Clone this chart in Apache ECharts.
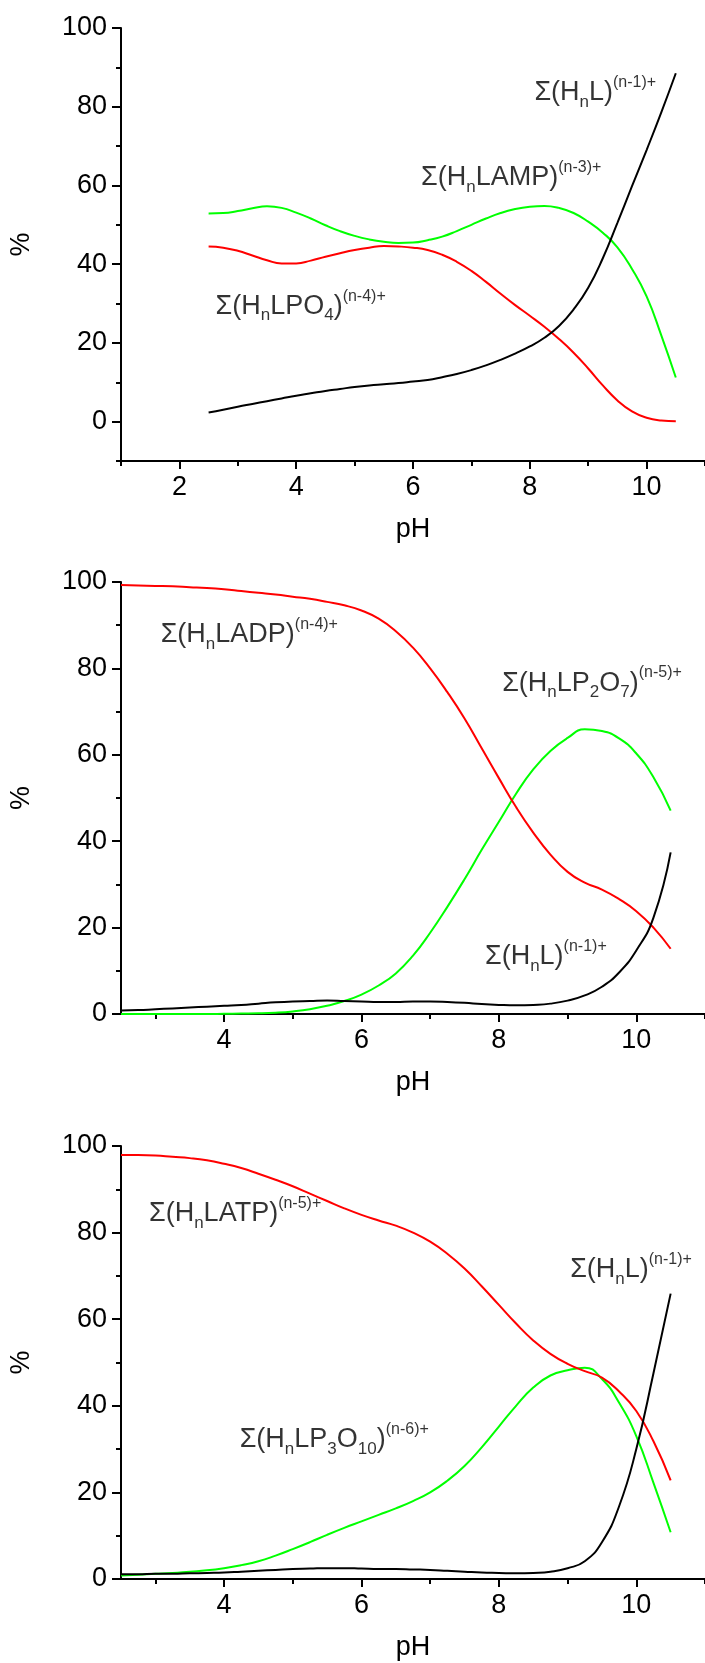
<!DOCTYPE html>
<html>
<head>
<meta charset="utf-8">
<script src="https://cdn.jsdelivr.net/npm/echarts@6/dist/echarts.min.js"></script>
<style>
  html, body { margin: 0; padding: 0; background: #fff; }
  #chart { width: 705px; height: 1663px; }
</style>
</head>
<body>
<div id="chart"></div>
<script>
// shared pH sampling
var pH = [2.5, 2.75, 3, 3.25, 3.5, 3.75, 4, 4.25, 4.5, 4.75, 5, 5.25, 5.5, 5.75, 6, 6.25, 6.5,
          6.75, 7, 7.25, 7.5, 7.75, 8, 8.25, 8.5, 8.75, 9, 9.25, 9.5, 9.75, 10, 10.25, 10.5];

// panel 1 : AMP
var ampHnL  = [2.3, 3.0, 3.8, 4.5, 5.2, 5.9, 6.6, 7.2, 7.8, 8.3, 8.8, 9.2, 9.5, 9.8, 10.2, 10.6, 11.3,
               12.1, 13.1, 14.3, 15.7, 17.3, 19.1, 21.3, 24.3, 28.5, 34.0, 41.5, 50.5, 59.8, 69.0, 78.5, 88.5];
var ampLAMP = [52.9, 53.0, 53.5, 54.2, 54.7, 54.3, 53.1, 51.6, 49.9, 48.4, 47.2, 46.3, 45.7, 45.4, 45.5, 46.1, 47.0,
               48.4, 50.0, 51.6, 53.0, 54.0, 54.6, 54.8, 54.3, 53.0, 50.8, 48.0, 44.3, 38.8, 31.8, 22.0, 11.2];
var ampLPO4 = [44.5, 44.2, 43.4, 42.2, 41.0, 40.2, 40.2, 40.9, 41.9, 42.8, 43.6, 44.2, 44.6, 44.5, 44.2, 43.6, 42.4,
               40.6, 38.3, 35.5, 32.5, 29.6, 26.9, 24.1, 21.0, 17.5, 13.5, 9.2, 5.4, 2.6, 1.0, 0.3, 0.1];

// panel 2 : ADP
var adpLADP  = [99.3, 99.2, 99.1, 99.0, 98.8, 98.6, 98.3, 97.9, 97.5, 97.1, 96.6, 96.1, 95.4, 94.6, 93.4, 91.5, 88.6,
                84.8, 80.0, 74.5, 68.4, 61.5, 54.6, 47.9, 42.0, 36.9, 32.9, 30.4, 28.8, 26.6, 23.8, 20.0, 15.1];
var adpLP2O7 = [0, 0, 0, 0, 0, 0, 0.05, 0.1, 0.15, 0.3, 0.6, 1.1, 1.9, 3.0, 4.5, 6.6, 9.4,
                13.5, 18.8, 24.8, 31.2, 38.0, 44.5, 51.0, 56.6, 60.9, 63.9, 65.9, 65.5, 63.8, 60.3, 54.8, 47.1];
var adpHnL   = [0.8, 0.9, 1.1, 1.3, 1.5, 1.7, 1.9, 2.1, 2.4, 2.7, 2.9, 3.0, 3.1, 3.0, 2.9, 2.8, 2.8,
                2.9, 2.9, 2.8, 2.6, 2.3, 2.1, 2.0, 2.1, 2.4, 3.1, 4.3, 6.3, 9.6, 14.7, 22.3, 37.4];

// panel 3 : ATP
var atpLATP   = [97.9, 97.9, 97.8, 97.5, 97.2, 96.7, 95.9, 94.9, 93.6, 92.2, 90.7, 89.0, 87.3, 85.6, 84.1, 82.8, 81.6,
                 80.0, 77.9, 75.1, 71.7, 67.6, 63.3, 59.0, 55.1, 52.0, 49.7, 48.0, 46.5, 43.3, 38.8, 31.8, 22.8];
var atpLP3O10 = [0.8, 1.0, 1.2, 1.4, 1.7, 2.0, 2.5, 3.2, 4.1, 5.4, 6.9, 8.5, 10.2, 11.8, 13.3, 14.8, 16.3,
                 18.0, 20.0, 22.7, 26.1, 30.4, 35.2, 40.0, 44.2, 47.0, 48.2, 48.8, 46.2, 40.7, 33.0, 22.2, 10.8];
var atpHnL    = [1.1, 1.1, 1.2, 1.2, 1.3, 1.4, 1.5, 1.7, 1.9, 2.1, 2.3, 2.4, 2.5, 2.5, 2.4, 2.3, 2.3,
                 2.2, 2.1, 1.9, 1.7, 1.5, 1.4, 1.3, 1.4, 1.7, 2.5, 4.1, 8.5, 16.8, 30.0, 47.5, 65.9];

// axis ranges and tick labels
var xRange1 = [1, 11];
var xRange23 = [2.5, 11];
var yRange1 = [-10, 100];
var yRange23 = [0, 100];
var xMajor = [2, 4, 6, 8, 10];
var xMinor = [1, 3, 5, 7, 9, 11];
var yMajor = [0, 20, 40, 60, 80, 100];
var yMinor = [-10, 10, 30, 50, 70, 90];

// species labels (pH, %) and text
var ampNotes = [[8.07, 83.6], [6.13, 61.9], [2.61, 29.3]];
var ampTexts = ['Σ(H{s|n}L){p|(n-1)+}', 'Σ(H{s|n}LAMP){p|(n-3)+}', 'Σ(H{s|n}LPO{s|4}){p|(n-4)+}'];
var adpNotes = [[3.07, 87.8], [8.04, 76.6], [7.79, 13.3]];
var adpTexts = ['Σ(H{s|n}LADP){p|(n-4)+}', 'Σ(H{s|n}LP{s|2}O{s|7}){p|(n-5)+}', 'Σ(H{s|n}L){p|(n-1)+}'];
var atpNotes = [[2.90, 84.4], [9.03, 71.5], [4.22, 32.2]];
var atpTexts = ['Σ(H{s|n}LATP){p|(n-5)+}', 'Σ(H{s|n}L){p|(n-1)+}', 'Σ(H{s|n}LP{s|3}O{s|10}){p|(n-6)+}'];

var FONT = 'Liberation Sans, Arial, Helvetica, sans-serif';
var RED = '#ff0000', GREEN = '#00ff00', BLACK = '#000000';

function pairs(ys) {
  return ys.map(function (y, i) { return [pH[i], y]; });
}

var grids = [
  { left: 121, top: 28, width: 586, height: 433 },
  { left: 119, top: 582, width: 586, height: 432 },
  { left: 120, top: 1146, width: 586, height: 433 }
];
var xRanges = [xRange1, xRange23, xRange23];
var yRanges = [yRange1, yRange23, yRange23];

var xAxes = [], yAxes = [];
grids.forEach(function (g, p) {
  var xr = xRanges[p], yr = yRanges[p];
  var inX = function (v) { return v >= xr[0] && v <= xr[1]; };
  var inY = function (v) { return v >= yr[0] && v <= yr[1]; };
  // main x axis with labels
  xAxes.push({
    type: 'value', gridIndex: p, position: 'bottom', min: xr[0], max: xr[1],
    name: 'pH', nameLocation: 'middle', nameGap: 55,
    nameTextStyle: { fontSize: 27, color: '#000', fontFamily: FONT },
    axisLine: { onZero: false, lineStyle: { color: '#000', width: 2 } },
    axisTick: { customValues: xMajor.filter(inX), length: 8, lineStyle: { color: '#000', width: 2 } },
    axisLabel: { customValues: xMajor.filter(inX), margin: 13, fontSize: 27, color: '#000', fontFamily: FONT },
    splitLine: { show: false }
  });
  // minor x ticks
  xAxes.push({
    type: 'value', gridIndex: p, position: 'bottom', min: xr[0], max: xr[1],
    axisLine: { show: false, onZero: false },
    axisTick: { customValues: xMinor.filter(inX), length: 5, lineStyle: { color: '#000', width: 2 } },
    axisLabel: { show: false },
    splitLine: { show: false }
  });
  yAxes.push({
    type: 'value', gridIndex: p, position: 'left', min: yr[0], max: yr[1],
    name: '%', nameLocation: 'middle', nameGap: 86, nameRotate: 90,
    nameTextStyle: { fontSize: 27, color: '#000', fontFamily: FONT },
    axisLine: { onZero: false, lineStyle: { color: '#000', width: 2 } },
    axisTick: { customValues: yMajor.filter(inY), length: 9, lineStyle: { color: '#000', width: 2 } },
    axisLabel: { customValues: yMajor.filter(inY), margin: 14, fontSize: 27, color: '#000', fontFamily: FONT },
    splitLine: { show: false }
  });
  // minor y ticks
  yAxes.push({
    type: 'value', gridIndex: p, position: 'left', min: yr[0], max: yr[1],
    axisLine: { show: false, onZero: false },
    axisTick: { customValues: yMinor.filter(inY), length: 5, lineStyle: { color: '#000', width: 2 } },
    axisLabel: { show: false },
    splitLine: { show: false }
  });
});

function curve(p, ys, color) {
  return {
    type: 'line', xAxisIndex: 2 * p, yAxisIndex: 2 * p,
    data: pairs(ys), smooth: 0.5, showSymbol: false, silent: true,
    lineStyle: { color: color, width: 2 }
  };
}

function notes(p, coords, texts) {
  return {
    type: 'scatter', xAxisIndex: 2 * p, yAxisIndex: 2 * p,
    data: coords, symbolSize: 1, silent: true,
    itemStyle: { color: 'rgba(0,0,0,0)' },
    label: {
      show: true, position: 'right', distance: 0,
      formatter: function (d) { return texts[d.dataIndex]; },
      fontSize: 27, lineHeight: 36, color: '#000', fontFamily: FONT,
      rich: {
        s: { fontSize: 17, lineHeight: 28, verticalAlign: 'bottom', color: '#000', fontFamily: FONT },
        p: { fontSize: 16, lineHeight: 20, verticalAlign: 'top', color: '#000', fontFamily: FONT }
      }
    }
  };
}

var chart = echarts.init(document.getElementById('chart'));
chart.setOption({
  animation: false,
  backgroundColor: '#fff',
  grid: grids,
  xAxis: xAxes,
  yAxis: yAxes,
  series: [
    curve(0, ampLAMP, GREEN), curve(0, ampLPO4, RED), curve(0, ampHnL, BLACK),
    notes(0, ampNotes, ampTexts),
    curve(1, adpLP2O7, GREEN), curve(1, adpLADP, RED), curve(1, adpHnL, BLACK),
    notes(1, adpNotes, adpTexts),
    curve(2, atpLP3O10, GREEN), curve(2, atpLATP, RED), curve(2, atpHnL, BLACK),
    notes(2, atpNotes, atpTexts)
  ]
});
</script>
</body>
</html>
